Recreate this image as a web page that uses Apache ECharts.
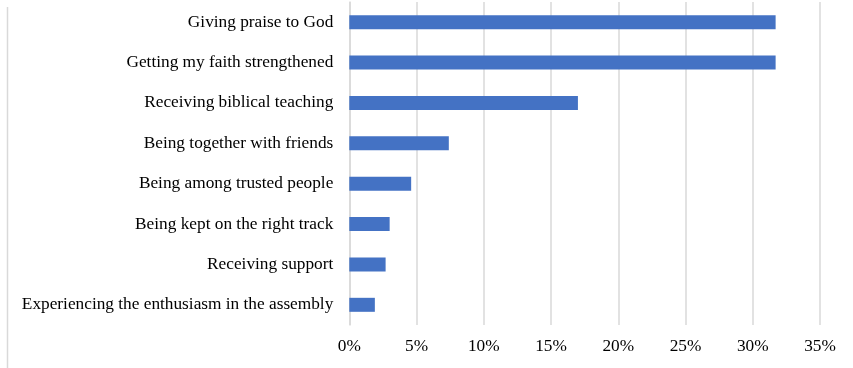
<!DOCTYPE html>
<html>
<head>
<meta charset="utf-8">
<script src="https://cdn.jsdelivr.net/npm/echarts@6/dist/echarts.min.js"></script>
<style>
html,body{margin:0;padding:0;background:#fff;}
#c{width:853px;height:368px;}
</style>
</head>
<body>
<div id="c"></div>
<script>
const categories = [
  "Giving praise to God",
  "Getting my faith strengthened",
  "Receiving biblical teaching",
  "Being together with friends",
  "Being among trusted people",
  "Being kept on the right track",
  "Receiving support",
  "Experiencing the enthusiasm in the assembly"
];
const values = [31.7, 31.7, 17.0, 7.4, 4.6, 3.0, 2.7, 1.9];
const xTicks = [0, 5, 10, 15, 20, 25, 30, 35];

const chart = echarts.init(document.getElementById('c'), null, {renderer: 'canvas'});
const font = '"Liberation Serif", "Times New Roman", serif';
chart.setOption({
  animation: false,
  backgroundColor: '#ffffff',
  graphic: [{
    type: 'line',
    shape: {x1: 7.5, y1: 7, x2: 7.5, y2: 368},
    style: {stroke: '#d9d9d9', lineWidth: 1.5}
  }],
  grid: {left: 349.3, right: 33, top: 2, bottom: 43, containLabel: false},
  xAxis: {
    type: 'value',
    min: xTicks[0],
    max: xTicks[xTicks.length - 1],
    interval: 5,
    axisLine: {show: false},
    axisTick: {show: false},
    splitLine: {show: true, lineStyle: {color: '#d9d9d9', width: 1.5}},
    axisLabel: {
      color: '#000', fontFamily: font, fontSize: 17.3, margin: 13,
      formatter: v => v + '%'
    }
  },
  yAxis: {
    type: 'category',
    data: categories,
    inverse: true,
    axisLine: {show: true, lineStyle: {color: '#d9d9d9', width: 1.5}},
    axisTick: {show: false},
    axisLabel: {color: '#000', fontFamily: font, fontSize: 17.3, margin: 16}
  },
  series: [{
    type: 'bar',
    data: values,
    barWidth: 14,
    itemStyle: {color: '#4472C4'}
  }]
});
</script>
</body>
</html>
